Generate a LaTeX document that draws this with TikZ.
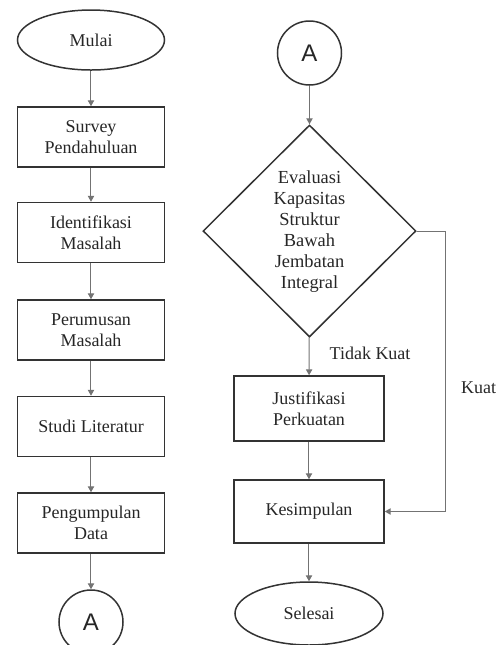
\documentclass[tikz,border=0pt]{standalone}
\usepackage{fontspec}
\setmainfont{Liberation Serif}
\newfontfamily\connfont{Liberation Sans}
\usepackage{tikz}
\usetikzlibrary{
  shapes.geometric, arrows.meta, positioning
}
\colorlet{boxline}{black!80}
\colorlet{flowline}{black!55}
\colorlet{boxtext}{black!85}
\tikzstyle{terminal} = [
  ellipse, draw=boxline, line width=0.75pt,
  minimum width=73.5pt, minimum height=30pt, inner sep=0pt,
  font=\fontsize{9}{10.5}\selectfont, text=boxtext
]
\tikzstyle{process} = [
  rectangle, draw=boxline, line width=0.75pt,
  minimum width=73.5pt, minimum height=30pt, inner sep=0pt,
  align=center, font=\fontsize{9}{10.5}\selectfont, text=boxtext
]
\tikzstyle{decision} = [
  diamond, draw=boxline, line width=0.75pt, aspect=1,
  minimum width=106.5pt, minimum height=106pt, inner sep=0pt,
  align=center, font=\fontsize{9.2}{10.5}\selectfont, text=boxtext
]
\tikzstyle{connector} = [
  circle, draw=boxline, line width=0.75pt,
  minimum size=32pt, inner sep=0pt,
  font=\connfont\fontsize{12}{14}\selectfont, text=boxtext
]
\tikzstyle{flow} = [-{Triangle[length=3pt, width=3.2pt]}, draw=flowline, line width=0.5pt]
\tikzstyle{lbl} = [inner sep=0pt, font=\fontsize{9}{10.5}\selectfont, text=boxtext]

\begin{document}
\begin{tikzpicture}[x=0.5pt, y=-0.5pt]

  \useasboundingbox (0,0) rectangle (497,645);

  % left column
  \node[terminal] (mulai) at (91, 40) {Mulai};
  \node[process] (survey) at (91, 137) {Survey\\Pendahuluan};
  \node[process] (identifikasi) at (91, 232.5) {Identifikasi\\Masalah};
  \node[process] (perumusan) at (91, 330) {Perumusan\\Masalah};
  \node[process] (studi) at (91, 426.5) {Studi Literatur};
  \node[process] (pengumpulan) at (91, 523) {Pengumpulan\\Data};
  \node[connector] (conA1) at (91, 622) {A};

  % right column
  \node[connector] (conA2) at (309.5, 53) {A};
  \node[decision] (evaluasi) at (309.5, 231) {\\[-4pt]Evaluasi\\Kapasitas\\Struktur\\Bawah\\Jembatan\\Integral};
  \node[process, minimum width=75pt, minimum height=32.5pt] (justifikasi) at (309, 408.5) {Justifikasi\\Perkuatan};
  \node[process, minimum width=75pt, minimum height=31.5pt] (kesimpulan) at (309, 511.5) {Kesimpulan};
  \node[terminal, minimum width=74pt, minimum height=31.5pt] (selesai) at (309, 613.5) {Selesai};

  \draw[flow] (mulai) -- (survey);
  \draw[flow] (survey) -- (identifikasi);
  \draw[flow] (identifikasi) -- (perumusan);
  \draw[flow] (perumusan) -- (studi);
  \draw[flow] (studi) -- (pengumpulan);
  \draw[flow] (pengumpulan) -- (conA1);

  \draw[flow] (conA2) -- (evaluasi);
  \draw[flow] (evaluasi) -- node[lbl, pos=0.42, right=10pt] {Tidak Kuat} (justifikasi);
  \draw[flow] (justifikasi) -- (kesimpulan);
  \draw[flow] (kesimpulan) -- (selesai);
  \draw[flow] (evaluasi.east) -- ++(29,0) |- node[lbl, pos=0.28, right=7.5pt] {Kuat} (kesimpulan.east);

\end{tikzpicture}
\end{document}
